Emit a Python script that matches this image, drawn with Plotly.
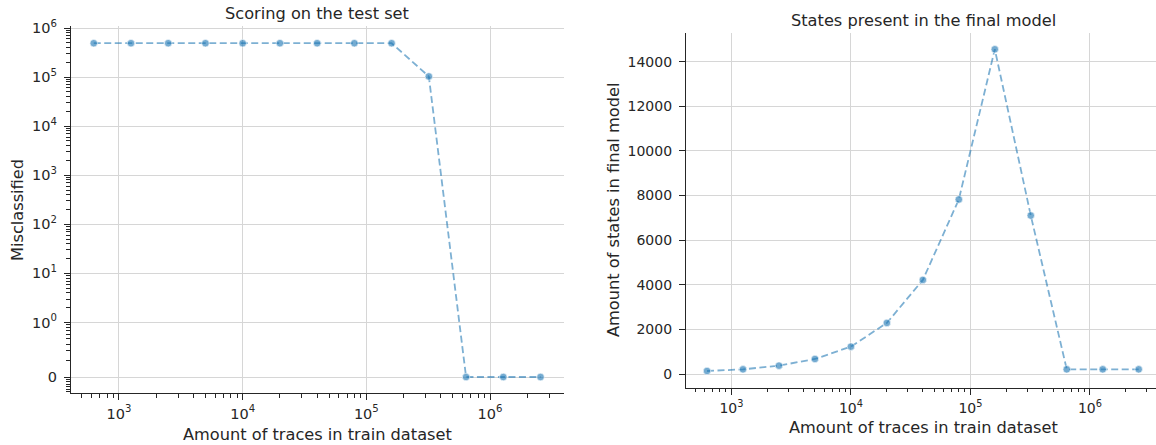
import numpy as np
import plotly.graph_objects as go

# ---------------- data ----------------
train_sizes = [625, 1250, 2500, 5000, 10000, 20000, 40000, 80000,
               160000, 320000, 640000, 1280000, 2560000]
misclassified = [490000, 490000, 490000, 490000, 490000, 490000, 490000,
                 490000, 490000, 103000, 0, 0, 0]
final_states = [135, 209, 374, 673, 1227, 2289, 4218, 7823,
                14555, 7105, 209, 209, 209]

left_title = "Scoring on the test set"
right_title = "States present in the final model"
x_label = "Amount of traces in train dataset"
left_ylabel = "Misclassified"
right_ylabel = "Amount of states in final model"

x_major_vals = [1e3, 1e4, 1e5, 1e6]
x_major_text = ["10<sup>3</sup>", "10<sup>4</sup>", "10<sup>5</sup>", "10<sup>6</sup>"]
sym_major_vals = [0, 1, 10, 100, 1000, 10000, 100000, 1000000]
sym_major_text = ["0", "10<sup>0</sup>", "10<sup>1</sup>", "10<sup>2</sup>", "10<sup>3</sup>",
                  "10<sup>4</sup>", "10<sup>5</sup>", "10<sup>6</sup>"]
right_y_ticks = [0, 2000, 4000, 6000, 8000, 10000, 12000, 14000]
right_y_text = ["0", "2000", "4000", "6000", "8000", "10000", "12000", "14000"]

# ---------------- symlog transform (matplotlib default, linthresh=1) ----------------
LIN = 1.0 / (1.0 - 0.1)


def symlog(v):
    v = np.asarray(v, dtype=float)
    a = np.abs(v)
    return np.where(a <= 1, v * LIN, np.sign(v) * (LIN + np.log10(np.maximum(a, 1e-300))))


# minor tick positions
sym_minor = []
for k in range(0, 6):
    for m in range(2, 10):
        sym_minor.append(float(symlog(m * 10 ** k)))
for m in range(2, 10):
    sym_minor.append(LIN * (1 + np.log10(m / 10)))
for k in range(1, 7):
    sym_minor.append(-0.05 * k)

x_minor = [m * 10 ** k for k in range(2, 7) for m in range(2, 10)]

FONT = "DejaVu Sans"
TXT = "#262626"
GRID = "#d6d6d6"
AX = "#262626"
LINE = "rgba(31,119,180,0.58)"
MARK = "rgba(31,119,180,0.62)"

W, H = 1156, 445


def px(x):
    return x / W


def py(y):
    return 1 - y / H


fig = go.Figure()

for xs, ys, xa, ya in [(train_sizes, symlog(misclassified), "x", "y"),
                       (train_sizes, final_states, "x2", "y2")]:
    fig.add_trace(go.Scatter(
        x=xs, y=ys, mode="lines+markers",
        line=dict(color=LINE, width=1.8, dash="7px,3.5px"),
        marker=dict(size=7.5, color=MARK, line=dict(color="rgba(255,255,255,0.6)", width=1)),
        xaxis=xa, yaxis=ya, showlegend=False))


def axis_base(tick_size):
    return dict(
        showline=True, linecolor=AX, linewidth=1.25, mirror=False,
        ticks="outside", ticklen=6, tickwidth=1.25, tickcolor=AX,
        showgrid=True, gridcolor=GRID, gridwidth=1, zeroline=False,
        tickfont=dict(family=FONT, size=tick_size, color=TXT),
        automargin=False,
    )


minor_x = dict(tickmode="array", tickvals=x_minor, ticks="outside", ticklen=3.5,
               tickwidth=1, tickcolor=AX, showgrid=False)

fig.update_layout(
    width=W, height=H,
    margin=dict(l=0, r=0, t=0, b=0),
    paper_bgcolor="white", plot_bgcolor="white",
    font=dict(family=FONT, color=TXT),
    xaxis=dict(axis_base(14.5), type="log", domain=[px(71), px(564)],
               range=[2.612, 6.598], tickmode="array", tickvals=x_major_vals,
               ticktext=x_major_text, minor=minor_x, anchor="y",
               ticklabelstandoff=1),
    yaxis=dict(axis_base(14.5), domain=[py(393), py(26)], range=[-0.326, 7.152],
               tickmode="array", tickvals=list(symlog(sym_major_vals)),
               ticktext=sym_major_text, anchor="x",
               minor=dict(tickmode="array", tickvals=sym_minor, ticks="outside",
                          ticklen=3.5, tickwidth=1, tickcolor=AX, showgrid=False),
               ticklabelstandoff=4),
    xaxis2=dict(axis_base(14), type="log", domain=[px(686), 1.0],
                range=[2.62, 6.553], tickmode="array", tickvals=x_major_vals,
                ticktext=x_major_text, minor=minor_x, anchor="y2",
                ticklabelstandoff=1),
    yaxis2=dict(axis_base(14), domain=[py(387.7), py(33)], range=[-614, 15285],
                tickmode="array", tickvals=right_y_ticks, ticktext=right_y_text,
                anchor="x2", ticklabelstandoff=4),
)

lab_font = dict(family=FONT, size=16.2, color=TXT)
annotations = [
    dict(text=left_title, x=px(317), y=py(13)),
    dict(text=right_title, x=px(923), y=py(20)),
    dict(text=x_label, x=px(317), y=py(434)),
    dict(text=x_label, x=px(923), y=py(427)),
    dict(text=left_ylabel, x=px(17), y=py(210), textangle=-90),
    dict(text=right_ylabel, x=px(613), y=py(210), textangle=-90),
]
for a in annotations:
    a.update(xref="paper", yref="paper", showarrow=False, font=lab_font,
             xanchor="center", yanchor="middle")
fig.update_layout(annotations=annotations)

# remove the default 8px page margin so the figure fills the window exactly
fig.write_html("out.html", config={"displayModeBar": False},
               post_script="document.body.style.margin='0px';document.body.style.overflow='hidden';")
